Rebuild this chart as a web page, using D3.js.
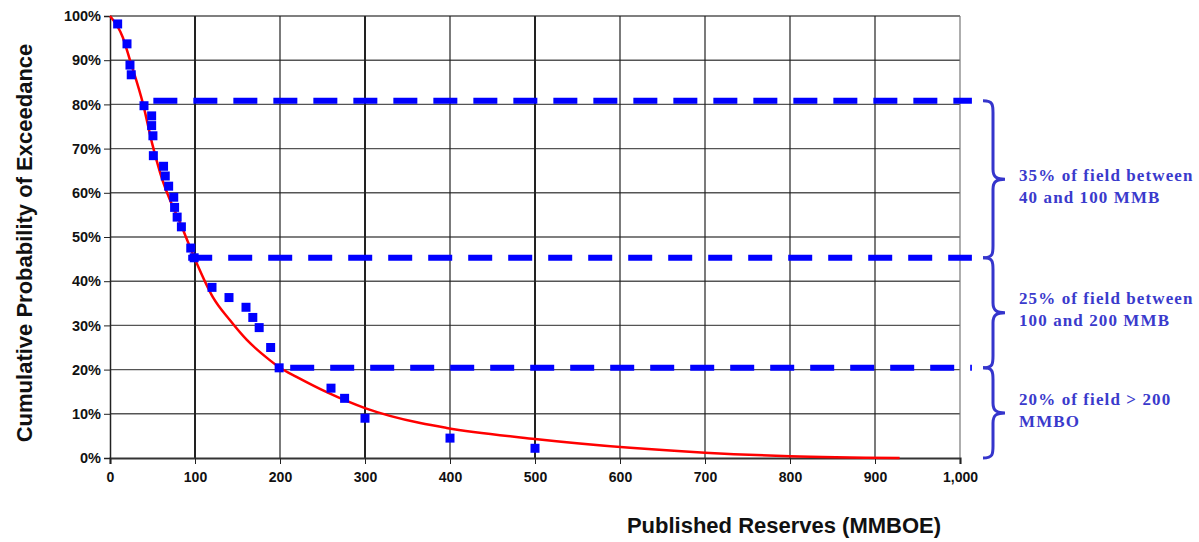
<!DOCTYPE html>
<html><head><meta charset="utf-8">
<script src="https://d3js.org/d3.v7.min.js"></script>
<style>body{margin:0;background:#fff}svg{display:block}</style>
</head><body><svg id="c" width="1199" height="542"></svg>
<script>
// data
const xTicks = [0,100,200,300,400,500,600,700,800,900,1000];
const yTicks = [0,0.1,0.2,0.3,0.4,0.5,0.6,0.7,0.8,0.9,1.0];
const pointX = [9,20,23.5,25,40,49,49,50.5,51,63,65,69,75,76,79,84,95,99,120,140,160,168,175.5,189,199,260,276,300,400,500];
const pointY = [0.982,0.937,0.889,0.867,0.797,0.774,0.752,0.729,0.684,0.66,0.638,0.615,0.59,0.567,0.545,0.523,0.475,0.453,0.386,0.363,0.341,0.318,0.295,0.25,0.204,0.158,0.135,0.09,0.045,0.022];
const curveX = [0,15,23.5,39,49.4,59,86,102,121,141,161,185,200,220,255,300,365,396,500,612,700,800,929];
const curveY = [1.0,0.952,0.90,0.80,0.713,0.645,0.516,0.441,0.364,0.312,0.267,0.226,0.204,0.183,0.149,0.113,0.079,0.068,0.043,0.023,0.012,0.004,0.0];
const dashLevels = [0.808,0.453,0.204];
const dashStarts = [51,92,212];
const dashEnd = 1014;
const braceTop = [0.808,0.453,0.204];
const braceBottom = [0.453,0.204,0.0];
const noteLines = [["35% of field between","40 and 100 MMB"],["25% of field between","100 and 200 MMB"],["20% of field > 200","MMBO"]];

// layout
const noteShift = [2,-9,-8];

const svg = d3.select("#c");
const L=110, R=960, T=16, B=458;
const x = d3.scaleLinear().domain([0,1000]).range([L,R]);
const y = d3.scaleLinear().domain([0,1]).range([B,T]);

// horizontal gridlines
svg.append("g").selectAll("line").data(yTicks.slice(1)).join("line")
  .attr("x1",L).attr("x2",R).attr("y1",d=>y(d)).attr("y2",d=>y(d))
  .attr("stroke","#555").attr("stroke-width",1.4);
// vertical gridlines
svg.append("g").selectAll("line").data(xTicks.slice(1)).join("line")
  .attr("x1",d=>x(d)).attr("x2",d=>x(d)).attr("y1",T).attr("y2",B)
  .attr("stroke",d=>d===1000?"#777":"#222").attr("stroke-width",d=>(d===100||d===300||d===500)?2:1.2);

// axes
const xAxis = d3.axisBottom(x).tickValues(xTicks).tickSize(6).tickFormat(d3.format(","));
const gx = svg.append("g").attr("transform",`translate(0,${B})`).call(xAxis);
gx.select(".domain").attr("stroke","#333").attr("stroke-width",2.2);
gx.selectAll(".tick line").attr("stroke","#222");
gx.selectAll("text").attr("font-family","Liberation Sans, Arial, sans-serif").attr("font-weight","bold").attr("font-size",14).attr("fill","#111").attr("dy","1.05em");

const yAxis = d3.axisLeft(y).tickValues(yTicks).tickSize(6).tickFormat(d3.format(".0%"));
const gy = svg.append("g").attr("transform",`translate(${L},0)`).call(yAxis);
gy.select(".domain").attr("stroke","#222").attr("stroke-width",1.5);
gy.selectAll(".tick line").attr("stroke","#222");
gy.selectAll("text").attr("font-family","Liberation Sans, Arial, sans-serif").attr("font-weight","bold").attr("font-size",14.5).attr("fill","#111").attr("x",-9);

// dashed lines
svg.append("g").selectAll("line").data(dashLevels).join("line")
  .attr("x1",(d,i)=>x(dashStarts[i])).attr("x2",x(dashEnd))
  .attr("y1",d=>y(d)).attr("y2",d=>y(d))
  .attr("stroke","#0000ff").attr("stroke-width",6).attr("stroke-dasharray","24,16");

// red curve
const line = d3.line().x(d=>x(d[0])).y(d=>y(d[1])).curve(d3.curveMonotoneX);
svg.append("path").datum(curveX.map((v,i)=>[v,curveY[i]]))
  .attr("d",line).attr("fill","none").attr("stroke","#ff0000").attr("stroke-width",2.5);

// points
svg.append("g").selectAll("rect").data(pointX.map((v,i)=>[v,pointY[i]])).join("rect")
  .attr("x",d=>x(d[0])-4.5).attr("y",d=>y(d[1])-4.5).attr("width",9).attr("height",9)
  .attr("fill","#0000ff");

// braces
const bx = 983, bw = 10, tip = 22;
function brace(y1,y2){
  const m=(y1+y2)/2;
  return `M${bx},${y1} C${bx+bw},${y1} ${bx+bw},${y1+4} ${bx+bw},${y1+12} L${bx+bw},${m-10} C${bx+bw},${m-2} ${bx+bw+4},${m} ${bx+tip},${m} C${bx+bw+4},${m} ${bx+bw},${m+2} ${bx+bw},${m+10} L${bx+bw},${y2-12} C${bx+bw},${y2-4} ${bx+bw},${y2} ${bx},${y2}`;
}
svg.append("g").selectAll("path").data(braceTop).join("path")
  .attr("d",(d,i)=>brace(y(d),y(braceBottom[i])))
  .attr("fill","none").attr("stroke","#3535cc").attr("stroke-width",3);

// notes
const notes = svg.append("g").selectAll("text").data(braceTop).join("text")
  .attr("x",1019).attr("y",(d,i)=>(y(d)+y(braceBottom[i]))/2+noteShift[i])
  .attr("font-family","Liberation Serif, Times New Roman, serif").attr("font-weight","bold")
  .attr("font-size",17).attr("letter-spacing",1.1).attr("fill","#3a3acc");
notes.each(function(d,i){
  const t=d3.select(this);
  noteLines[i].forEach((s,j)=>t.append("tspan").attr("x",1019).attr("dy",j===0?0:22).text(s));
});

// axis titles
svg.append("text").attr("x",784).attr("y",533).attr("text-anchor","middle")
  .attr("font-family","Liberation Sans, Arial, sans-serif").attr("font-weight","bold").attr("font-size",22).attr("fill","#111")
  .text("Published Reserves (MMBOE)");
svg.append("text").attr("transform","translate(32,243) rotate(-90)").attr("text-anchor","middle")
  .attr("font-family","Liberation Sans, Arial, sans-serif").attr("font-weight","bold").attr("font-size",22).attr("fill","#111")
  .text("Cumulative Probability of Exceedance");
</script></body></html>
